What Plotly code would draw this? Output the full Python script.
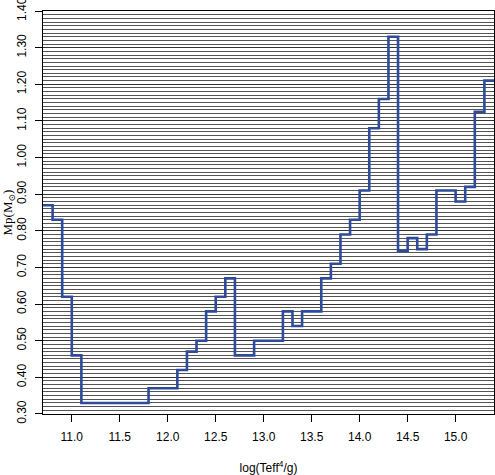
import plotly.graph_objects as go

log_teff4_g = [10.7, 10.8, 10.9, 11.0, 11.1, 11.2, 11.3, 11.4, 11.5, 11.6, 11.7,
               11.8, 11.9, 12.0, 12.1, 12.2, 12.3, 12.4, 12.5, 12.6, 12.7, 12.8,
               12.9, 13.0, 13.1, 13.2, 13.3, 13.4, 13.5, 13.6, 13.7, 13.8, 13.9,
               14.0, 14.1, 14.2, 14.3, 14.4, 14.5, 14.6, 14.7, 14.8, 14.9, 15.0,
               15.1, 15.2, 15.3, 15.4]
mp_msun = [0.87, 0.83, 0.62, 0.46, 0.33, 0.33, 0.33, 0.33, 0.33, 0.33, 0.33,
           0.37, 0.37, 0.37, 0.42, 0.47, 0.50, 0.58, 0.62, 0.67, 0.46, 0.46,
           0.50, 0.50, 0.50, 0.58, 0.54, 0.58, 0.58, 0.67, 0.71, 0.79, 0.83,
           0.91, 1.08, 1.16, 1.33, 0.745, 0.78, 0.75, 0.79, 0.91, 0.91, 0.88,
           0.92, 1.125, 1.21, 1.21]

x_ticks = [11.0, 11.5, 12.0, 12.5, 13.0, 13.5, 14.0, 14.5, 15.0]
x_ticklabels = ["11.0", "11.5", "12.0", "12.5", "13.0", "13.5", "14.0", "14.5", "15.0"]
y_ticks = [0.30, 0.40, 0.50, 0.60, 0.70, 0.80, 0.90, 1.00, 1.10, 1.20, 1.30, 1.40]
y_ticklabels = ["0.30", "0.40", "0.50", "0.60", "0.70", "0.80", "0.90", "1.00",
                "1.10", "1.20", "1.30", "1.40"]

fig = go.Figure()
fig.add_trace(go.Scatter(
    x=log_teff4_g, y=mp_msun, mode="lines", line_shape="hv",
    line=dict(color="#2d4b9a", width=2.6), showlegend=False, cliponaxis=True,
))

font_sans = "Liberation Sans, Arial, sans-serif"
fig.update_layout(
    width=495, height=475,
    margin=dict(l=43, r=1, t=11, b=61),
    paper_bgcolor="white", plot_bgcolor="white",
    font=dict(family=font_sans, size=12, color="black"),
    xaxis=dict(
        range=[10.7, 15.4], tickvals=x_ticks, ticktext=x_ticklabels,
        ticks="outside", ticklen=7, tickwidth=1, tickcolor="black",
        ticklabelstandoff=5,
        showgrid=False, zeroline=False, automargin=False,
        showline=True, linecolor="black", linewidth=1, mirror=True,
        title=dict(text="log(Teff<sup>4</sup>/g)", font=dict(size=12), standoff=22),
        tickfont=dict(size=12),
    ),
    yaxis=dict(
        range=[0.2998, 1.4002], tickvals=y_ticks, ticktext=y_ticklabels,
        ticks="outside", ticklen=7, tickwidth=1, tickcolor="black",
        tickangle=-90, automargin=False, ticklabeloverflow="allow",
        ticklabelstandoff=4,
        showgrid=True, gridcolor="#333333", gridwidth=1,
        minor=dict(dtick=0.01, tick0=0.30, showgrid=True, gridcolor="#555555",
                   gridwidth=1, ticks=""),
        zeroline=False,
        showline=True, linecolor="black", linewidth=1, mirror=True,
        title=dict(text="Mp(M<sub>⊙</sub>)",
                   font=dict(family="Liberation Serif, DejaVu Serif, serif", size=13),
                   standoff=4),
        tickfont=dict(size=12),
    ),
)

fig.write_html("out.html",
               config={"displayModeBar": False},
               post_script="document.body.style.margin='0';document.body.style.overflow='hidden';")
